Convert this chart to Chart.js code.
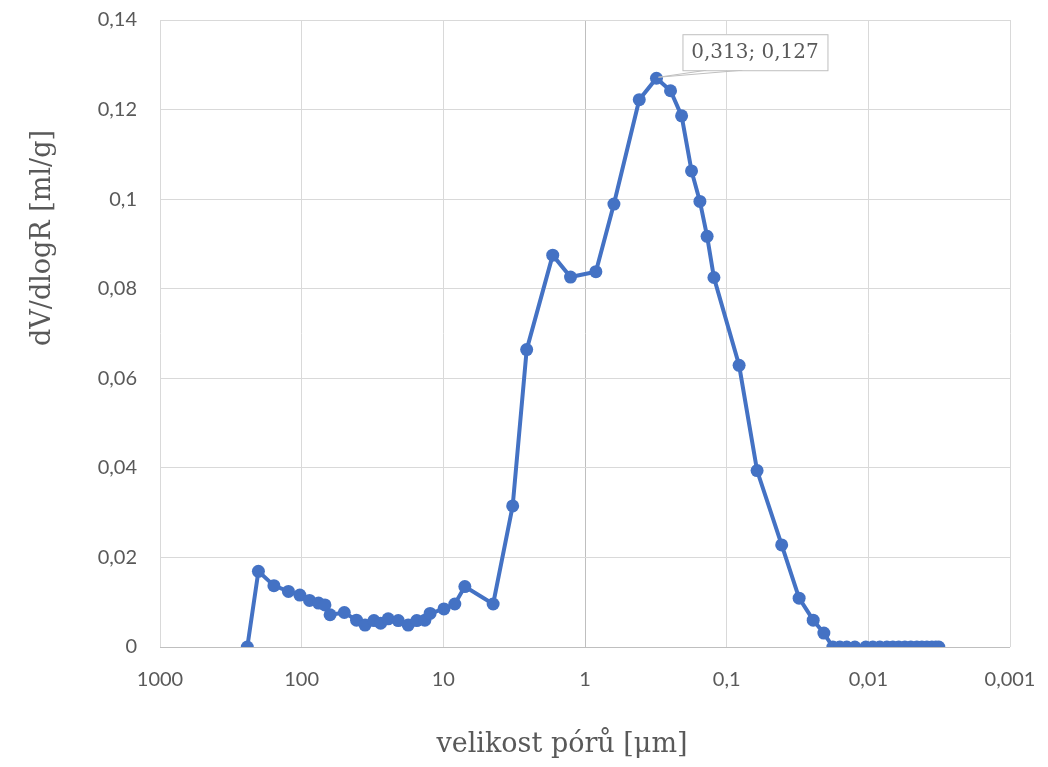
<!DOCTYPE html>
<html>
<head>
<meta charset="utf-8">
<script src="https://cdn.jsdelivr.net/npm/chart.js@4/dist/chart.umd.min.js"></script>
<style>
html,body{margin:0;padding:0;background:#fff;}
#wrap{width:1048px;height:767px;position:relative;}
</style>
</head>
<body>
<div id="wrap"><canvas id="c" width="1048" height="767"></canvas></div>
<script>
// pore size [µm]
const poreSize = [242, 202, 157, 124, 103, 88, 76, 68.5, 63, 50, 41, 35.7, 30.9, 27.7, 24.5, 20.8, 17.7, 15.4, 13.5, 12.4, 9.9, 8.3, 7.05, 4.45, 3.24, 2.58, 1.69, 1.265, 0.838, 0.625, 0.414, 0.313, 0.249, 0.208, 0.177, 0.1545, 0.1374, 0.123, 0.0817, 0.061, 0.0409, 0.0308, 0.0245, 0.0206,
  0.0178, 0.0159, 0.0142, 0.01245, 0.01042, 0.0093, 0.0083, 0.0074, 0.00672, 0.0061, 0.00552, 0.00501, 0.00455, 0.00419, 0.00386, 0.00356, 0.00334, 0.00318];
// dV/dlogR [ml/g]
const dVdlogR = [0, 0.0169, 0.0137, 0.0124, 0.0116, 0.0104, 0.0098, 0.0094, 0.0072, 0.0077, 0.0060, 0.0049, 0.0059, 0.0053, 0.0063, 0.0059, 0.0049, 0.0059, 0.0060, 0.0075, 0.0085, 0.0096, 0.0135, 0.0096, 0.0315, 0.0664, 0.0875, 0.0826, 0.0838, 0.0989, 0.1222, 0.127, 0.1242, 0.1186, 0.1063, 0.0995, 0.0917, 0.0825, 0.0629, 0.0394, 0.0228, 0.0109, 0.0060, 0.0031,
  0, 0, 0, 0, 0, 0, 0, 0, 0, 0, 0, 0, 0, 0, 0, 0, 0, 0];
const xTickValues = [1000, 100, 10, 1, 0.1, 0.01, 0.001];
const yTickValues = [0, 0.02, 0.04, 0.06, 0.08, 0.1, 0.12, 0.14];
const xTitle = 'velikost pórů [μm]';
const yTitle = 'dV/dlogR [ml/g]';
const peakLabel = '0,313; 0,127';
const peakIndex = 31;

const fmt = v => String(+v.toFixed(6)).replace('.', ',');

const points = poreSize.map((x, i) => ({x: x, y: dVdlogR[i]}));

const titlesPlugin = {
  id: 'titles',
  afterDraw(chart) {
    const ctx = chart.ctx;
    ctx.save();
    ctx.fillStyle = '#595959';
    ctx.font = '27px "DejaVu Serif"';
    ctx.textAlign = 'center';
    ctx.textBaseline = 'middle';
    ctx.fillText(xTitle, 562, 745);
    ctx.translate(43, 238);
    ctx.rotate(-Math.PI / 2);
    ctx.fillText(yTitle, 0, 0);
    ctx.restore();
  }
};

const calloutPlugin = {
  id: 'callout',
  afterDatasetsDraw(chart) {
    const pt = chart.getDatasetMeta(0).data[peakIndex];
    const px = pt.x, py = pt.y;
    const ctx = chart.ctx;
    ctx.save();
    ctx.strokeStyle = '#bfbfbf';
    ctx.lineWidth = 1;
    ctx.beginPath();
    ctx.moveTo(px + 2, py - 1);
    ctx.lineTo(px + 50, py - 8);
    ctx.moveTo(px + 2, py - 1);
    ctx.lineTo(px + 86, py - 8);
    ctx.stroke();
    ctx.fillStyle = '#ffffff';
    ctx.fillRect(px + 26, py - 44, 145, 36);
    ctx.strokeRect(px + 26.5, py - 43.5, 145, 36);
    ctx.fillStyle = '#595959';
    ctx.font = '20px "DejaVu Serif"';
    ctx.textAlign = 'center';
    ctx.textBaseline = 'middle';
    ctx.fillText(peakLabel, px + 98.5, py - 25);
    ctx.restore();
  }
};

new Chart(document.getElementById('c'), {
  type: 'scatter',
  data: {
    datasets: [{
      data: points,
      showLine: true,
      borderColor: '#4472C4',
      backgroundColor: '#4472C4',
      borderWidth: 4,
      pointRadius: 6.5,
      pointHoverRadius: 6.5,
      pointBorderWidth: 0,
      tension: 0
    }]
  },
  options: {
    responsive: false,
    animation: false,
    events: [],
    layout: {padding: {left: 0, right: 38, top: 20, bottom: 0}},
    plugins: {legend: {display: false}, tooltip: {enabled: false}},
    scales: {
      x: {
        type: 'logarithmic',
        reverse: true,
        min: 0.001,
        max: 1000,
        afterBuildTicks: s => { s.ticks = xTickValues.map(v => ({value: v})); },
        afterFit: s => { s.height = 120; s.paddingLeft = 0; s.paddingRight = 0; },
        ticks: {
          callback: v => fmt(v),
          color: '#595959',
          font: {family: 'Lato', size: 20},
          padding: 21,
          maxRotation: 0,
          autoSkip: false
        },
        grid: {
          drawTicks: false,
          color: c => (c.tick && c.tick.value === 1) ? '#bfbfbf' : '#d9d9d9',
          lineWidth: 1
        },
        border: {display: false}
      },
      y: {
        min: 0,
        max: 0.14,
        afterBuildTicks: s => { s.ticks = yTickValues.map(v => ({value: v})); },
        afterFit: s => { s.width = 160; s.paddingTop = 0; s.paddingBottom = 0; },
        ticks: {
          callback: v => fmt(v),
          color: '#595959',
          font: {family: 'Lato', size: 20},
          padding: 23
        },
        grid: {
          drawTicks: false,
          color: c => (c.tick && c.tick.value === 0) ? '#bfbfbf' : '#d9d9d9',
          lineWidth: 1
        },
        border: {display: false}
      }
    }
  },
  plugins: [titlesPlugin, calloutPlugin]
});
</script>
</body>
</html>
